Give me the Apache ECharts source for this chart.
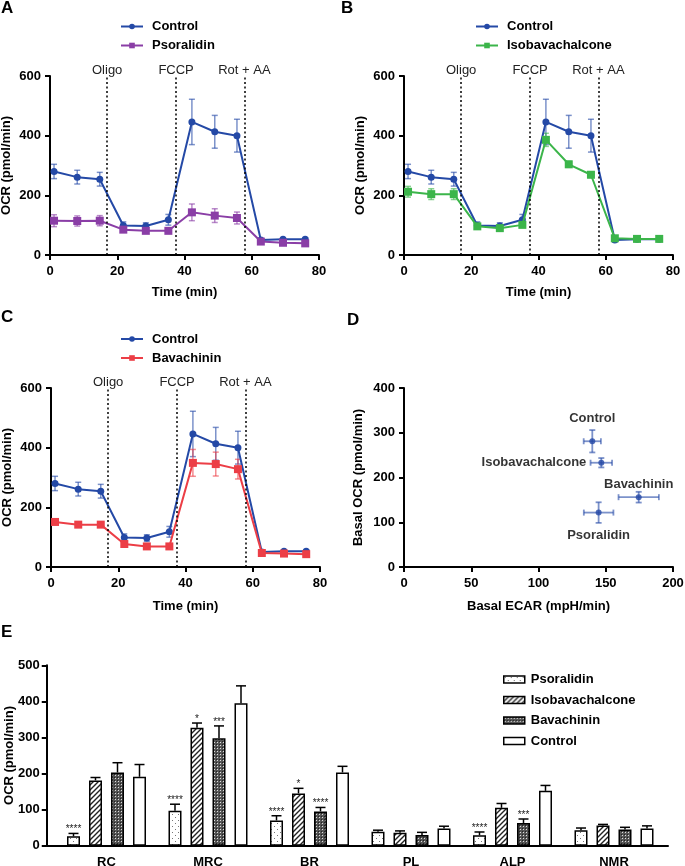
<!DOCTYPE html>
<html><head><meta charset="utf-8">
<script src="https://cdn.jsdelivr.net/npm/echarts@6/dist/echarts.min.js"></script>
<style>html,body{margin:0;padding:0;background:#fff;}
#c1,#c2{position:absolute;left:0;top:0;width:685px;height:866px;}
</style></head><body>
<div id="c1"></div><div id="c2"></div>
<script>
// ---------- DATA ----------
const time = [1.2, 8.1, 14.8, 21.8, 28.5, 35.2, 42.2, 49.0, 55.6, 62.7, 69.3, 75.9];
const injections = ['Oligo', 'FCCP', 'Rot + AA'];
const injectionTimes = [17, 37.5, 57.8];

const ctrlOCR    = [280, 261, 254, 99, 97, 118, 446, 413, 400, 50, 53, 53];
const ctrlOCRErr = [24, 23, 23, 12, 11, 18, 76, 55, 55, 5, 4, 4];
const psorOCR    = [115, 114, 115, 85, 81, 81, 143, 132, 124, 45, 41, 39];
const psorOCRErr = [20, 17, 17, 8, 5, 5, 28, 23, 20, 5, 5, 5];
const isoOCR     = [212, 204, 204, 96, 90, 101, 386, 304, 269, 56, 54, 54];
const isoOCRErr  = [18, 18, 18, 8, 6, 7, 22, 10, 9, 4, 4, 4];
const bavOCR     = [151, 142, 142, 77, 69, 69, 349, 345, 328, 47, 45, 43];
const bavOCRErr  = [5, 5, 8, 7, 5, 5, 45, 40, 33, 5, 5, 5];

const dNames     = ['Control', 'Isobavachalcone', 'Bavachinin', 'Psoralidin'];
const basalECAR  = [140, 146.7, 174.5, 144.7];
const basalECARErr = [6.4, 8, 15, 11];
const basalOCR   = [281, 233, 156, 121.6];
const basalOCRErr = [25, 10.5, 12, 23];

const eCats = ['RC', 'MRC', 'BR', 'PL', 'ALP', 'NMR'];
const ePsor    = [26, 97, 70, 39, 29, 43];
const ePsorErr = [8, 18, 13, 4, 9, 6];
const eIso     = [181, 327, 145, 36, 105, 56];
const eIsoErr  = [8, 13, 14, 5, 12, 3];
const eBav     = [203, 298, 95, 30, 63, 45];
const eBavErr  = [27, 34, 11, 7, 11, 6];
const eCtrl    = [191, 395, 203, 48, 152, 48];
const eCtrlErr = [34, 48, 17, 6, 15, 7];
const ePsorStars = ['****', '****', '****', '', '****', ''];
const eIsoStars  = ['', '*', '*', '', '', ''];
const eBavStars  = ['', '***', '****', '', '***', ''];

// ---------- STYLE ----------
const FONT = "'Liberation Sans', Arial, Helvetica, sans-serif";
const blue = '#2449a6', purple = '#8a3ea6', green = '#3bb54a', red = '#ec3e46';
const blueE = 'rgba(36,73,166,0.6)', purpleE = 'rgba(138,62,166,0.6)', greenE = 'rgba(59,181,74,0.6)', redE = 'rgba(236,62,70,0.6)';

function pairs(xs, ys) { return xs.map((x, i) => [x, ys[i]]); }
function errData(xs, ys, es) { return xs.map((x, i) => [x, ys[i] - es[i], ys[i] + es[i]]); }

function vErrRender(color, hw) {
  return function (params, api) {
    const x = api.value(0);
    const lo = api.coord([x, api.value(1)]);
    const hi = api.coord([x, api.value(2)]);
    const st = { stroke: color, lineWidth: 1.5 };
    return { type: 'group', children: [
      { type: 'line', shape: { x1: lo[0], y1: lo[1], x2: hi[0], y2: hi[1] }, style: st },
      { type: 'line', shape: { x1: lo[0] - hw, y1: lo[1], x2: lo[0] + hw, y2: lo[1] }, style: st },
      { type: 'line', shape: { x1: hi[0] - hw, y1: hi[1], x2: hi[0] + hw, y2: hi[1] }, style: st }
    ]};
  };
}

const boldLabel = { color: '#000', fontSize: 13, fontWeight: 'bold', fontFamily: FONT };
const axisLineS = { lineStyle: { color: '#000', width: 2 } };
const axisTickS = { length: 5, lineStyle: { color: '#000', width: 2 } };

function xTime(gi, gap) {
  return { gridIndex: gi, type: 'value', min: 0, max: 80, interval: 20,
    axisLine: axisLineS, axisTick: axisTickS, splitLine: { show: false },
    axisLabel: Object.assign({ margin: 10 }, boldLabel),
    name: 'Time (min)', nameLocation: 'middle', nameGap: gap, nameTextStyle: boldLabel };
}
function yOCR(gi) {
  return { gridIndex: gi, type: 'value', min: 0, max: 600, interval: 200,
    axisLine: Object.assign({ show: true }, axisLineS), axisTick: Object.assign({ show: true }, axisTickS),
    splitLine: { show: false }, axisLabel: Object.assign({ margin: 9 }, boldLabel),
    name: 'OCR (pmol/min)', nameLocation: 'middle', nameGap: 37, nameTextStyle: boldLabel };
}

const markLineDef = {
  silent: true, symbol: 'none', animation: false,
  lineStyle: { color: '#000', type: [2, 2.5], width: 1.5 },
  label: { show: true, position: 'end', formatter: '{b}', distance: -1, color: '#222', fontSize: 13, fontFamily: FONT },
  data: injectionTimes.map((t, i) => ({ xAxis: t, name: injections[i] }))
};

function timeSeries(gi, oName, oVals, oErr, oColor, oErrColor) {
  return [
    { type: 'custom', xAxisIndex: gi, yAxisIndex: gi, renderItem: vErrRender(blueE, 3),
      encode: { x: 0, y: [1, 2] }, data: errData(time, ctrlOCR, ctrlOCRErr), z: 1, silent: true },
    { type: 'custom', xAxisIndex: gi, yAxisIndex: gi, renderItem: vErrRender(oErrColor, 3),
      encode: { x: 0, y: [1, 2] }, data: errData(time, oVals, oErr), z: 1, silent: true },
    { type: 'line', name: 'Control', xAxisIndex: gi, yAxisIndex: gi, data: pairs(time, ctrlOCR),
      symbol: 'circle', symbolSize: 7, color: blue, lineStyle: { width: 2, color: blue },
      itemStyle: { color: blue }, z: 3, markLine: markLineDef },
    { type: 'line', name: oName, xAxisIndex: gi, yAxisIndex: gi, data: pairs(time, oVals),
      symbol: 'rect', symbolSize: 8, color: oColor, lineStyle: { width: 2, color: oColor },
      itemStyle: { color: oColor }, z: 4 }
  ];
}

function legendAt(left, top, names) {
  return { left: left, top: top, padding: 0, orient: 'vertical', itemWidth: 22, itemHeight: 7, itemGap: 5,
    data: names, textStyle: Object.assign({ lineHeight: 14, padding: [0, 0, 0, 4] }, boldLabel) };
}

// D error bars
function xyErrRender(params, api) {
  const x = api.value(0), y = api.value(1), xe = api.value(2), ye = api.value(3);
  const l = api.coord([x - xe, y]), r = api.coord([x + xe, y]);
  const b = api.coord([x, y - ye]), t = api.coord([x, y + ye]);
  const st = { stroke: blueE, lineWidth: 1.8 };
  const hw = 3;
  return { type: 'group', children: [
    { type: 'line', shape: { x1: l[0], y1: l[1], x2: r[0], y2: r[1] }, style: st },
    { type: 'line', shape: { x1: l[0], y1: l[1] - hw, x2: l[0], y2: l[1] + hw }, style: st },
    { type: 'line', shape: { x1: r[0], y1: r[1] - hw, x2: r[0], y2: r[1] + hw }, style: st },
    { type: 'line', shape: { x1: b[0], y1: b[1], x2: t[0], y2: t[1] }, style: st },
    { type: 'line', shape: { x1: b[0] - hw, y1: b[1], x2: b[0] + hw, y2: b[1] }, style: st },
    { type: 'line', shape: { x1: t[0] - hw, y1: t[1], x2: t[0] + hw, y2: t[1] }, style: st }
  ]};
}
const dLabelPos = [
  { position: 'top', distance: 13 },
  { position: 'left', distance: 12 },
  { position: 'top', distance: 3 },
  { position: 'bottom', distance: 13 }
];

const titleStyle = { fontSize: 17, fontWeight: 'bold', color: '#000', fontFamily: FONT };

const opt1 = {
  animation: false,
  textStyle: { fontFamily: FONT },
  title: [
    { text: 'A', left: 1, top: 0, padding: 0, textStyle: titleStyle },
    { text: 'B', left: 341, top: 0, padding: 0, textStyle: titleStyle },
    { text: 'C', left: 1, top: 309, padding: 0, textStyle: titleStyle },
    { text: 'D', left: 347, top: 312, padding: 0, textStyle: titleStyle }
  ],
  legend: [
    legendAt(120, 19.5, ['Control', 'Psoralidin']),
    legendAt(475, 19.5, ['Control', 'Isobavachalcone']),
    legendAt(120, 332, ['Control', 'Bavachinin'])
  ],
  grid: [
    { left: 50, top: 76, width: 269, height: 179, outerBoundsMode: 'none' },
    { left: 404, top: 76, width: 269, height: 179, outerBoundsMode: 'none' },
    { left: 51, top: 388, width: 269, height: 179, outerBoundsMode: 'none' },
    { left: 404, top: 388, width: 269, height: 179, outerBoundsMode: 'none' }
  ],
  xAxis: [ xTime(0, 31), xTime(1, 31), xTime(2, 33),
    { gridIndex: 3, type: 'value', min: 0, max: 200, interval: 50,
      axisLine: axisLineS, axisTick: axisTickS, splitLine: { show: false },
      axisLabel: Object.assign({ margin: 10 }, boldLabel),
      name: 'Basal ECAR (mpH/min)', nameLocation: 'middle', nameGap: 33, nameTextStyle: boldLabel } ],
  yAxis: [ yOCR(0), yOCR(1), yOCR(2),
    { gridIndex: 3, type: 'value', min: 0, max: 400, interval: 100,
      axisLine: Object.assign({ show: true }, axisLineS), axisTick: Object.assign({ show: true }, axisTickS),
      splitLine: { show: false }, axisLabel: Object.assign({ margin: 9 }, boldLabel),
      name: 'Basal OCR (pmol/min)', nameLocation: 'middle', nameGap: 39, nameTextStyle: boldLabel } ],
  series: [].concat(
    timeSeries(0, 'Psoralidin', psorOCR, psorOCRErr, purple, purpleE),
    timeSeries(1, 'Isobavachalcone', isoOCR, isoOCRErr, green, greenE),
    timeSeries(2, 'Bavachinin', bavOCR, bavOCRErr, red, redE),
    [
      { type: 'custom', xAxisIndex: 3, yAxisIndex: 3, renderItem: xyErrRender, silent: true,
        encode: { x: 0, y: 1 },
        data: dNames.map((n, i) => [basalECAR[i], basalOCR[i], basalECARErr[i], basalOCRErr[i]]), z: 1 },
      { type: 'scatter', name: 'Basal', xAxisIndex: 3, yAxisIndex: 3, symbol: 'circle', symbolSize: 6,
        itemStyle: { color: blue }, z: 2,
        data: dNames.map((n, i) => ({ name: n, value: [basalECAR[i], basalOCR[i]],
          label: Object.assign({ show: true, formatter: '{b}' }, boldLabel, dLabelPos[i]) })) }
    ]
  )
};

// ---------- PANEL E ----------
function pattern(kind) {
  const c = document.createElement('canvas');
  const ctx = c.getContext('2d');
  if (kind === 'dots') {
    c.width = 6; c.height = 6;
    ctx.fillStyle = '#fff'; ctx.fillRect(0, 0, 6, 6);
    ctx.fillStyle = '#777'; ctx.fillRect(1, 1, 1, 1); ctx.fillRect(4, 4, 1, 1);
  } else if (kind === 'diag') {
    c.width = 5; c.height = 5;
    ctx.fillStyle = '#fff'; ctx.fillRect(0, 0, 5, 5);
    ctx.strokeStyle = '#222'; ctx.lineWidth = 1.4;
    ctx.beginPath();
    ctx.moveTo(-1, 6); ctx.lineTo(6, -1);
    ctx.moveTo(-1, 1); ctx.lineTo(1, -1);
    ctx.moveTo(4, 6); ctx.lineTo(6, 4);
    ctx.stroke();
  } else if (kind === 'check') {
    c.width = 3; c.height = 3;
    ctx.fillStyle = '#555'; ctx.fillRect(0, 0, 3, 3);
    ctx.fillStyle = '#ddd'; ctx.fillRect(1, 1, 1, 1);
    ctx.fillStyle = '#222'; ctx.fillRect(0, 0, 1, 1);
  } else {
    c.width = 2; c.height = 2;
    ctx.fillStyle = '#fff'; ctx.fillRect(0, 0, 2, 2);
  }
  return { image: c, repeat: 'repeat' };
}

const BARW = 13, PITCH = 22;
function eErrRender(idx, stars) {
  return function (params, api) {
    const ci = api.value(0);
    const p0 = api.coord([ci, api.value(1)]);
    const p1 = api.coord([ci, api.value(2)]);
    const x = p0[0] + (idx - 1.5) * PITCH;
    const st = { stroke: '#000', lineWidth: 1.5 };
    const children = [
      { type: 'line', shape: { x1: x, y1: p0[1], x2: x, y2: p1[1] }, style: st },
      { type: 'line', shape: { x1: x - 5, y1: p1[1], x2: x + 5, y2: p1[1] }, style: st }
    ];
    const s = stars[params.dataIndex];
    if (s) children.push({ type: 'text', style: { text: s, x: x, y: p1[1] + 1, align: 'center',
      verticalAlign: 'bottom', fontSize: 10, fontFamily: FONT, fill: '#222' } });
    return { type: 'group', children: children };
  };
}
const eGroups = [
  { name: 'Psoralidin', vals: ePsor, errs: ePsorErr, stars: ePsorStars, pat: pattern('dots') },
  { name: 'Isobavachalcone', vals: eIso, errs: eIsoErr, stars: eIsoStars, pat: pattern('diag') },
  { name: 'Bavachinin', vals: eBav, errs: eBavErr, stars: eBavStars, pat: pattern('check') },
  { name: 'Control', vals: eCtrl, errs: eCtrlErr, stars: ['', '', '', '', '', ''], pat: '#fff' }
];

const eSeries = [];
eGroups.forEach((g, i) => {
  eSeries.push({ type: 'bar', name: g.name, xAxisIndex: 0, yAxisIndex: 0, data: g.vals,
    barWidth: BARW, barGap: ((PITCH - BARW) / BARW * 100) + '%',
    itemStyle: { color: g.pat, borderColor: '#000', borderWidth: 1.5 }, z: 3 });
});
eGroups.forEach((g, i) => {
  eSeries.push({ type: 'custom', xAxisIndex: 0, yAxisIndex: 0, renderItem: eErrRender(i, g.stars),
    silent: true, z: 2, encode: { x: 0, y: [1, 2] },
    data: g.vals.map((v, k) => [k, v, v + g.errs[k]]) });
});

const opt2 = {
  animation: false,
  textStyle: { fontFamily: FONT },
  title: [{ text: 'E', left: 1, top: 624, padding: 0, textStyle: titleStyle }],
  legend: { left: 503, top: 672.5, padding: 0, orient: 'vertical', itemWidth: 21, itemHeight: 7, itemGap: 6.5, icon: 'rect',
    data: eGroups.map(g => g.name),
    itemStyle: { borderColor: '#000', borderWidth: 1.5 },
    textStyle: Object.assign({ lineHeight: 14, padding: [0, 0, 0, 1] }, boldLabel) },
  grid: [
    { left: 55.75, top: 665.3, width: 609, height: 180.4, outerBoundsMode: 'none' },
    { left: 47, top: 665.3, width: 621, height: 180.4, outerBoundsMode: 'none' }
  ],
  xAxis: [
    { gridIndex: 0, type: 'category', data: eCats, axisLine: axisLineS,
      axisTick: Object.assign({ alignWithLabel: true }, axisTickS),
      axisLabel: Object.assign({ margin: 10 }, boldLabel) },
    { gridIndex: 1, type: 'value', min: 0, max: 1, axisLine: axisLineS,
      axisTick: { show: false }, axisLabel: { show: false }, splitLine: { show: false } }
  ],
  yAxis: [
    { gridIndex: 0, type: 'value', min: 0, max: 500, interval: 100, offset: 9,
      axisLine: Object.assign({ show: true }, axisLineS), axisTick: Object.assign({ show: true }, axisTickS),
      splitLine: { show: false }, axisLabel: Object.assign({ margin: 7 }, boldLabel),
      name: 'OCR (pmol/min)', nameLocation: 'middle', nameGap: 31, nameMoveOverlap: false, nameTextStyle: boldLabel },
    { gridIndex: 1, type: 'value', show: false, min: 0, max: 1 }
  ],
  series: eSeries
};

echarts.init(document.getElementById('c1'), null, { renderer: 'canvas' }).setOption(opt1);
echarts.init(document.getElementById('c2'), null, { renderer: 'canvas' }).setOption(opt2);
</script>
</body></html>
